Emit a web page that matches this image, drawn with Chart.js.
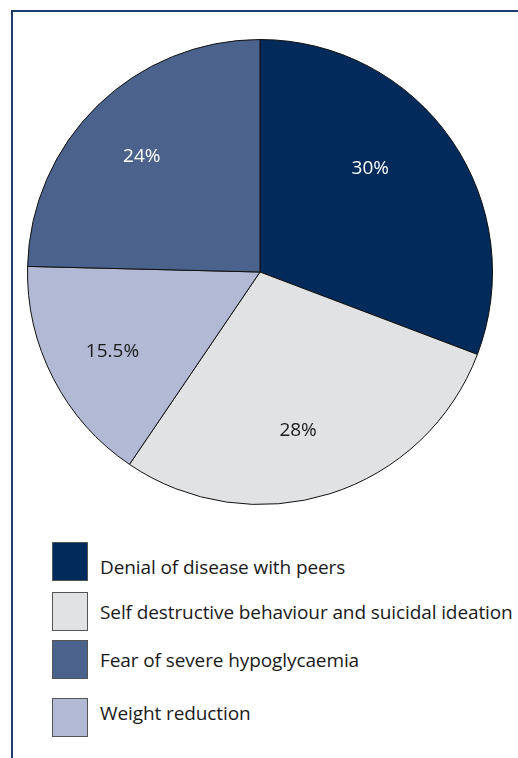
<!DOCTYPE html>
<html>
<head>
<meta charset="utf-8">
<script src="https://cdn.jsdelivr.net/npm/chart.js@4"></script>
<style>
  html, body { margin: 0; padding: 0; background: #fff; }
  body { width: 518px; height: 758px; position: relative; overflow: hidden; font-family: "Open Sans", Lato, sans-serif; }
  #frame { position: absolute; left: 11px; top: 10px; right: -5px; bottom: -5px; border-top: 2px solid #1d3b6c; border-left: 2px solid #1d3b6c; }
  #wrap { position: absolute; left: 27px; top: 39px; width: 466px; height: 466px; }
  .lg { position: absolute; left: 52px; width: 36px; height: 39px; box-sizing: border-box; border: 1px solid #555; }
  .lt { position: absolute; left: 100px; font-size: 19px; color: #1a1a1a; white-space: nowrap; line-height: 20px; letter-spacing: -0.1px; }
</style>
</head>
<body>
<div id="frame"></div>
<div id="wrap"><canvas id="c"></canvas></div>
<div id="legend"></div>
<script>
const categories = [
  "Denial of disease with peers",
  "Self destructive behaviour and suicidal ideation",
  "Weight reduction",
  "Fear of severe hypoglycaemia"
];
const values = [30, 28, 15.5, 24];
const valueLabels = ["30%", "28%", "15.5%", "24%"];
const colors = ["#022a5a", "#e1e2e4", "#b2b9d5", "#4b638c"];
const labelColors = ["#ffffff", "#1a1a1a", "#1a1a1a", "#ffffff"];

// legend order as in the reference
const legendOrder = [0, 1, 3, 2];
const legendBoxTops = [542, 592, 640, 698];
const legendTextTops = [557, 602, 650, 703];

const legend = document.getElementById('legend');
legendOrder.forEach((idx, i) => {
  const sq = document.createElement('div');
  sq.className = 'lg';
  sq.style.top = legendBoxTops[i] + 'px';
  sq.style.background = colors[idx];
  legend.appendChild(sq);
  const t = document.createElement('div');
  t.className = 'lt';
  t.style.top = legendTextTops[i] + 'px';
  t.textContent = categories[idx];
  legend.appendChild(t);
});

const labelAngleShift = [-8.5, 4, -1, -1.4];
const labelRadiusFrac = [0.65, 0.70, 0.72, 0.71];

const sliceLabels = {
  id: 'sliceLabels',
  afterDatasetsDraw(chart) {
    const ctx = chart.ctx;
    const meta = chart.getDatasetMeta(0);
    ctx.save();
    ctx.font = '19px "Open Sans", Lato, sans-serif';
    ctx.textAlign = 'center';
    ctx.textBaseline = 'middle';
    meta.data.forEach((arc, i) => {
      const p = arc.getProps(['x', 'y', 'startAngle', 'endAngle', 'outerRadius'], true);
      const mid = (p.startAngle + p.endAngle) / 2 + labelAngleShift[i] * Math.PI / 180;
      const r = p.outerRadius * labelRadiusFrac[i];
      ctx.fillStyle = labelColors[i];
      ctx.fillText(valueLabels[i], p.x + Math.cos(mid) * r, p.y + Math.sin(mid) * r);
    });
    ctx.restore();
  }
};

new Chart(document.getElementById('c'), {
  type: 'pie',
  data: {
    labels: categories,
    datasets: [{
      data: values,
      backgroundColor: colors,
      borderColor: '#111111',
      borderWidth: 1,
      hoverOffset: 0
    }]
  },
  options: {
    responsive: true,
    maintainAspectRatio: false,
    animation: false,
    layout: { padding: 0 },
    plugins: { legend: { display: false }, tooltip: { enabled: false } }
  },
  plugins: [sliceLabels]
});
</script>
</body>
</html>
